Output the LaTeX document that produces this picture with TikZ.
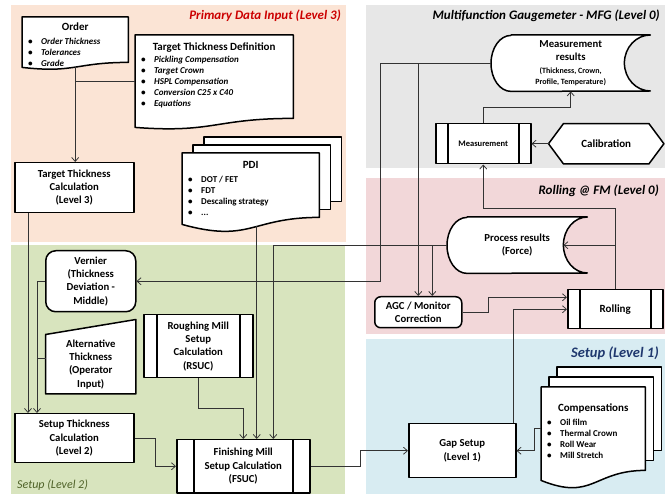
\documentclass[tikz,border=0pt]{standalone}
\usepackage{fontspec}
\setmainfont{Carlito}
\usetikzlibrary{arrows.meta,positioning,calc}

\definecolor{inputorange}{RGB}{251,228,213}
\definecolor{setupgreen}{RGB}{216,228,190}
\definecolor{mfggrey}{RGB}{231,231,231}
\definecolor{rollingpink}{RGB}{242,215,217}
\definecolor{setupblue}{RGB}{216,236,242}
\definecolor{inputred}{RGB}{204,0,0}
\definecolor{levelonenavy}{RGB}{31,56,110}
\definecolor{leveltwoolive}{RGB}{79,98,40}

\pgfdeclarelayer{zones}
\pgfdeclarelayer{outlines}
\pgfsetlayers{zones,outlines,main}

\tikzstyle{outline}=[
	draw=black,
	fill=white,
	line width=1.5pt,
	line join=round
]
\tikzstyle{process}=[
	rectangle,
	outline,
	align=center,
	inner sep=1pt,
	font=\fontsize{10.7}{13.3}\selectfont\bfseries
]
\tikzstyle{docbox}=[
	rectangle,
	inner sep=0pt,
	font=\fontsize{9}{11}\selectfont\bfseries
]
\tikzstyle{shapetext}=[
	rectangle,
	inner sep=0pt,
	align=center,
	font=\fontsize{10.7}{13.3}\selectfont\bfseries
]
\tikzstyle{zonelabel}=[
	inner sep=0pt,
	font=\fontsize{13}{15}\selectfont\bfseries\itshape
]
\tikzstyle{flow}=[
	->,
	>={Straight Barb[length=4pt,width=7pt]},
	line width=0.75pt,
	draw=black!80
]
\tikzstyle{link}=[
	line width=0.75pt,
	draw=black!80
]
\tikzset{
	subprocess/.style={process, path picture={
		\draw[line width=1.5pt]
			([xshift=#1]path picture bounding box.north west) -- ([xshift=#1]path picture bounding box.south west)
			([xshift=-#1]path picture bounding box.north east) -- ([xshift=-#1]path picture bounding box.south east);}},
	subprocess/.default=12pt
}

% text of the paper-like shapes
\newcommand{\bitem}[1]{\par\noindent\hspace*{6pt}\makebox[13pt][l]{\textbullet}#1}
\newcommand{\sheettitle}[2][3pt]{\noindent{\centering\fontsize{11}{13}\selectfont #2\par}\vspace{#1}}
\newcommand{\sheettext}[3]{\raisebox{#2}[\height][\depth]{\parbox{#1}{#3}}}

% outlines: node, rise of right end, depth of wave
\newcommand{\docoutline}[3]{
	\draw[outline] (#1.north west) -- (#1.north east) -- ($(#1.south east)+(0,-#2)$)
		.. controls ($(#1.south)+(0,-#2)$) and ($(#1.south)+(0,#3-#2)$) .. (#1.south west) -- cycle;}
\newcommand{\multidocoutline}[5]{
	\foreach \sheet in {2,1}
		\draw[outline] ($(#1.north west)+(\sheet*#4,-\sheet*#5)$) rectangle ($(#1.south east)+(\sheet*#4,-#2-\sheet*#5)$);
	\docoutline{#1}{#2}{#3}}
\newcommand{\storedoutline}[4]{
	\draw[outline] ($(#1.north west)+(#2,0)$) -- (#1.north east)
		arc[start angle=90, end angle=270, x radius=#3pt, y radius=#4pt]
		-- ($(#1.south west)+(#2,0)$)
		arc[start angle=270, end angle=90, x radius=#2pt, y radius=#4pt] -- cycle;}
\newcommand{\manualoutline}[2]{
	\draw[outline] (#1.south west) -- (#1.north west) -- ($(#1.north east)+(0,-#2)$) -- (#1.south east) -- cycle;}
\newcommand{\hexoutline}[2]{
	\draw[outline] (#1.west) -- ($(#1.north west)+(#2,0)$) -- ($(#1.north east)+(-#2,0)$) -- (#1.east)
		-- ($(#1.south east)+(-#2,0)$) -- ($(#1.south west)+(#2,0)$) -- cycle;}

\begin{document}
\begin{tikzpicture}[x=1pt, y=-1pt]
\useasboundingbox (0,0) rectangle (670,494);

% zones
\begin{pgfonlayer}{zones}
\fill[inputorange] (11,5) rectangle (346,242);
\fill[setupgreen] (11,245) rectangle (345,494);
\fill[mfggrey] (366,5) rectangle (665,168);
\fill[rollingpink] (366,178) rectangle (665,334);
\fill[setupblue] (366,339) rectangle (665,494);
\end{pgfonlayer}

\node[zonelabel, text=inputred, anchor=east] (inputLabel) at (341,16) {Primary Data Input (Level 3)};
\node[zonelabel, anchor=east] (mfgLabel) at (660,16) {Multifunction Gaugemeter - MFG (Level 0)};
\node[zonelabel, anchor=east] (rollingLabel) at (659,191) {Rolling @ FM (Level 0)};
\node[zonelabel, font=\fontsize{14.5}{17}\selectfont\bfseries\itshape, text=levelonenavy, anchor=east] (levelOneLabel) at (659,353) {Setup (Level 1)};
\node[zonelabel, font=\fontsize{12}{14}\selectfont\itshape, text=leveltwoolive, anchor=west] (levelTwoLabel) at (17,485) {Setup (Level 2)};

% primary data input
\node[docbox, minimum width=106pt, minimum height=50pt, anchor=north west] (Order) at (22,17)
	{\sheettext{106pt}{-2pt}{\sheettitle{Order}\itshape\bitem{Order Thickness}\bitem{Tolerances}\bitem{Grade}}};
\node[docbox, minimum width=158pt, minimum height=92pt, anchor=north west] (TTD) at (135,35)
	{\sheettext{158pt}{6pt}{\sheettitle[1pt]{Target Thickness Definition}\itshape\bitem{Pickling Compensation}\bitem{Target Crown}\bitem{HSPL Compensation}\bitem{Conversion C25 x C40}\bitem{Equations}}};
\node[process, minimum width=119pt, minimum height=50pt, anchor=north west] (TTC) at (14,162) {Target Thickness\\Calculation\\(Level 3)};
\node[docbox, minimum width=137pt, minimum height=71pt, anchor=north west] (PDI) at (182,153)
	{\sheettext{137pt}{0pt}{\sheettitle{PDI}\bitem{DOT / FET}\bitem{FDT}\bitem{Descaling strategy}\bitem{...}}};

% setup level 2
\node[process, rounded corners=10pt, minimum width=90pt, minimum height=61pt, anchor=north west] (Vernier) at (45,250) {Vernier\\(Thickness\\Deviation -\\Middle)};
\node[shapetext, minimum width=90pt, minimum height=59pt, below=22pt of Vernier] (Alt) {Alternative\\Thickness\\(Operator\\Input)};
\node[subprocess=13pt, minimum width=109pt, minimum height=63pt, anchor=north west] (RSUC) at (143,314) {Roughing Mill\\Setup\\Calculation\\(RSUC)};
\node[process, minimum width=119pt, minimum height=49pt, anchor=north west] (Setup) at (14,413) {Setup Thickness\\Calculation\\(Level 2)};
\node[subprocess=17pt, minimum width=133pt, minimum height=53pt, anchor=north west] (FSUC) at (176,439) {Finishing Mill\\Setup Calculation\\(FSUC)};

% gaugemeter
\node[shapetext, minimum width=159pt, minimum height=56pt, anchor=north west] (MeasRes) at (491,35)
	{\parbox{159pt}{\centering\fontsize{10.7}{13}\selectfont Measurement\\results\par\vspace{2pt}\fontsize{8}{11}\selectfont (Thickness, Crown,\\Profile, Temperature)}};
\node[subprocess=12pt, font=\fontsize{8.5}{10}\selectfont\bfseries, minimum width=95pt, minimum height=40pt, anchor=north west] (Measurement) at (435,123) {Measurement};
\node[shapetext, font=\fontsize{11}{13}\selectfont\bfseries, minimum width=115pt, minimum height=40pt, right=17pt of Measurement] (Calib) {Calibration};

% rolling
\node[shapetext, minimum width=140pt, minimum height=56pt, anchor=north west] (ProcRes) at (447,217) {Process results\\(Force)};
\node[process, rounded corners=6pt, minimum width=87pt, minimum height=31pt, anchor=north west] (AGC) at (374,296) {AGC / Monitor\\Correction};
\node[subprocess=12pt, font=\fontsize{11}{13}\selectfont\bfseries, minimum width=95pt, minimum height=39pt, anchor=north west] (Rolling) at (567,289) {Rolling};

% setup level 1
\node[process, minimum width=107pt, minimum height=54pt, anchor=north west] (Gap) at (408,423) {Gap Setup\\(Level 1)};
\node[docbox, minimum width=104pt, minimum height=93pt, anchor=north west] (Comp) at (541,387)
	{\sheettext{104pt}{3pt}{\sheettitle{Compensations}\bitem{Oil film}\bitem{Thermal Crown}\bitem{Roll Wear}\bitem{Mill Stretch}}};

\begin{pgfonlayer}{outlines}
\docoutline{Order}{5}{11}
\docoutline{TTD}{9}{15}
\multidocoutline{PDI}{7}{26}{11}{8}
\multidocoutline{Comp}{10}{31}{8}{10}
\manualoutline{Alt}{15}
\storedoutline{MeasRes}{20}{26}{28}
\storedoutline{ProcRes}{20}{24}{28}
\hexoutline{Calib}{15}
\end{pgfonlayer}

% connectors
\coordinate (agcTap) at ([xshift=14pt]AGC.north);
\coordinate (pdiIn) at ([xshift=13.5pt]FSUC.north);
\draw[flow] (Order.south) -- (Order.south |- TTC.north);
\draw[link] (TTD.west) -- (TTD.west -| Order.south);
\draw[flow] ([xshift=14pt]TTC.south west) -- ([xshift=14pt]Setup.north west);
\draw[flow] (Vernier.west) -| ([xshift=23pt]Setup.north west);
\draw[link] ([yshift=6pt]Alt.west) -- ++(-8,0);
\draw[flow] (MeasRes.west) -- ++(-111,0) |- (Vernier.east);
\draw[flow] (MeasRes.west -| AGC.north) -- (AGC.north);
\draw[flow] (ProcRes.west) -| ([xshift=30pt]FSUC.north);
\draw[flow] (agcTap |- ProcRes.west) -- (agcTap);
\draw[flow] ($(pdiIn |- PDI.south)+(0,2)$) -- (pdiIn);
\draw[flow] (RSUC.south) -- ++(0,30) -| (FSUC.north);
\draw[flow] (Setup.east) -- ++(21,0) |- (FSUC.west);
\draw[flow] (FSUC.east) -- ++(50,0) |- (Gap.west);
\draw[flow] ([yshift=5pt]Comp.west) -- ++(-7,0) |- (Gap.east);
\draw[flow] ([xshift=-3pt]Gap.north east) |- (Rolling.west);
\draw[flow] (AGC.east) -- ++(26,0) |- ([yshift=12pt]Rolling.west);
\draw[flow] (Rolling.north) |- ([xshift=-24pt]ProcRes.east);
\draw[flow] (Rolling.north) -- ++(0,-81) -| (Measurement.south);
\draw[flow] (Measurement.north) -- ++(0,-16) -| (MeasRes.south);
\draw[flow] (Calib.west) -- (Measurement.east);
\end{tikzpicture}
\end{document}
